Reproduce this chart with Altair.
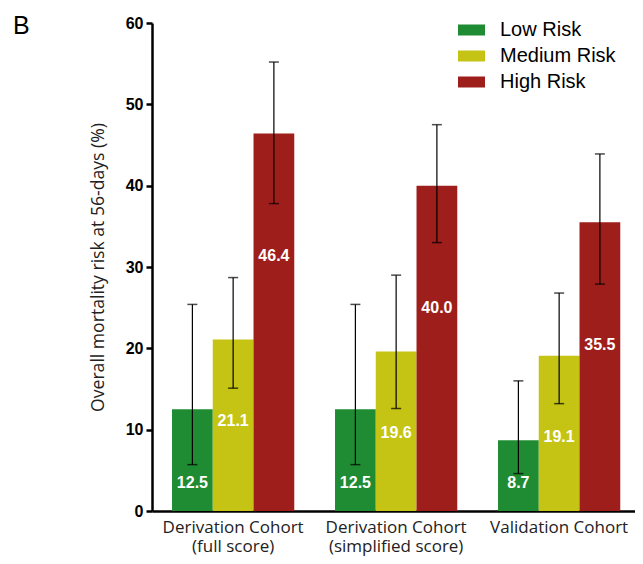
import altair as alt
import pandas as pd

cohorts = ["Derivation Cohort\n(full score)", "Derivation Cohort\n(simplified score)", "Validation Cohort"]
risks = ["Low Risk", "Medium Risk", "High Risk"]
colors = ["#1f8c33", "#c5c414", "#9e1e1b"]

low_vals = [12.5, 12.5, 8.7]
med_vals = [21.1, 19.6, 19.1]
high_vals = [46.4, 40.0, 35.5]

low_lo = [5.7, 5.7, 4.6]
low_hi = [25.4, 25.4, 16.0]
med_lo = [15.1, 12.6, 13.2]
med_hi = [28.7, 29.0, 26.8]
high_lo = [37.8, 33.0, 27.9]
high_hi = [55.2, 47.5, 43.9]

rows = []
for i, c in enumerate(cohorts):
    for r, v, lo, hi in zip(risks,
                            [low_vals[i], med_vals[i], high_vals[i]],
                            [low_lo[i], med_lo[i], high_lo[i]],
                            [low_hi[i], med_hi[i], high_hi[i]]):
        rows.append({"cohort": c, "risk": r, "value": v, "lo": lo, "hi": hi})
df = pd.DataFrame(rows)

x = alt.X("cohort:N", sort=cohorts,
          scale=alt.Scale(paddingInner=0.25, paddingOuter=0.1066, align=0.576),
          axis=alt.Axis(title=None, labelAngle=0, ticks=False, domainWidth=2.5,
                        domainColor="#000", labelFont="Open Sans", labelFontSize=17,
                        labelColor="#222", labelPadding=8, labelLineHeight=19,
                        labelExpr="split(datum.label, '\\n')"))
xo = alt.XOffset("risk:N", sort=risks, scale=alt.Scale(paddingInner=0, paddingOuter=0))

base = alt.Chart(df).encode(x=x, xOffset=xo)

bars = base.mark_bar(stroke=None).encode(
    y=alt.Y("value:Q", scale=alt.Scale(domain=[0, 60], nice=False),
            axis=alt.Axis(title="Overall mortality risk at 56-days (%)", values=[0, 10, 20, 30, 40, 50, 60],
                          grid=False, domainWidth=2.5, domainColor="#000", tickWidth=2.5, tickColor="#000",
                          tickSize=6, labelFont="Liberation Sans", labelFontWeight="bold",
                          labelFontSize=16, labelColor="#000", labelPadding=3,
                          titleFont="Open Sans", titleFontSize=17.6, titleFontWeight="normal",
                          titleColor="#222", titlePadding=18)),
    color=alt.Color("risk:N", sort=risks, scale=alt.Scale(domain=risks, range=colors),
                    legend=alt.Legend(title=None, orient="none", legendX=309.5, legendY=-3,
                                      symbolType="M-1.35,-0.55H1.35V0.55H-1.35Z", symbolSize=400,
                                      symbolStrokeWidth=0, labelFont="Liberation Sans",
                                      labelFontSize=20, labelColor="#000", labelOffset=18.5,
                                      rowPadding=6, padding=0)),
)

rules = base.mark_rule(color="#000", strokeWidth=1.2).encode(y="lo:Q", y2="hi:Q")
caps_lo = base.mark_tick(color="#000", thickness=1.5, size=10, orient="horizontal").encode(y="lo:Q")
caps_hi = base.mark_tick(color="#000", thickness=1.5, size=10, orient="horizontal").encode(y="hi:Q")

labels = base.transform_calculate(
    ly="datum.risk == 'Low Risk' ? 3.4 : (datum.risk == 'Medium Risk' ? datum.value - 10 : datum.value - 15.1)"
).mark_text(color="white", font="Liberation Sans", fontWeight="bold", fontSize=16, baseline="middle").encode(
    y="ly:Q", text=alt.Text("value:Q", format=".1f"))

panel_letter = alt.Chart(pd.DataFrame({"t": ["B"]})).mark_text(
    font="Liberation Sans", fontSize=25, color="#000", align="left", baseline="top"
).encode(text="t:N", x=alt.value(-139), y=alt.value(-9))

chart = alt.layer(bars, rules, caps_lo, caps_hi, labels, panel_letter).properties(
    width=483, height=488,
    autosize=alt.AutoSizeParams(type="none"),
    padding={"left": 144, "top": 15, "right": 0, "bottom": 45},
).configure_view(stroke=None)

chart.save("out.html", embed_options={"renderer": "svg", "actions": False})
